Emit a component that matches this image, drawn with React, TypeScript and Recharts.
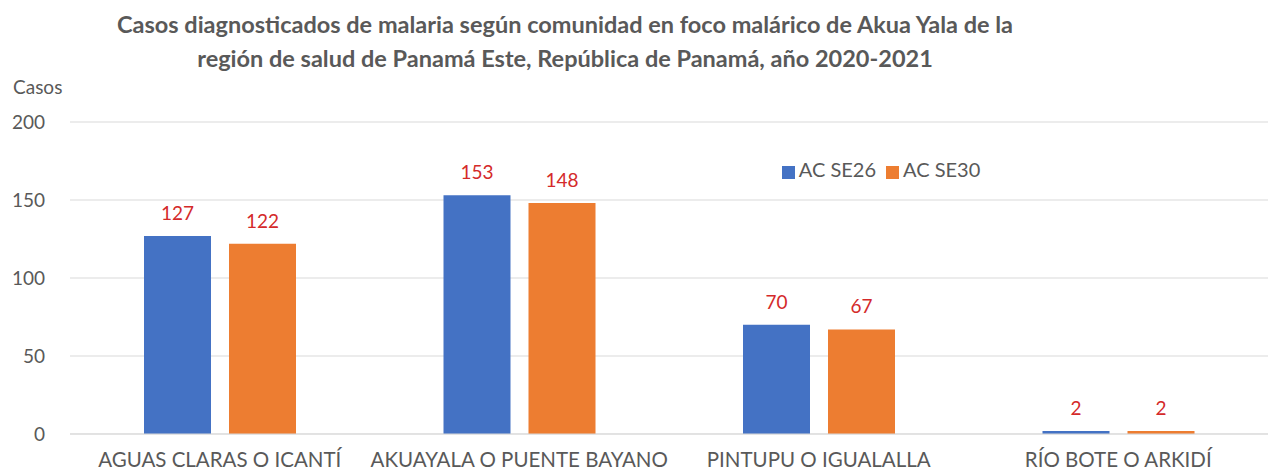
import React from "react";
import { BarChart, Bar, XAxis, YAxis, CartesianGrid, Legend, LabelList } from "recharts";

const categories = [
  "AGUAS CLARAS O ICANTÍ",
  "AKUAYALA O PUENTE BAYANO",
  "PINTUPU O IGUALALLA",
  "RÍO BOTE O ARKIDÍ",
];
const seSE26 = [127, 153, 70, 2];
const seSE30 = [122, 148, 67, 2];
const yTicks = [0, 50, 100, 150, 200];
const seriesNames = ["AC SE26", "AC SE30"];
const titleLines = [
  "Casos diagnosticados de malaria según comunidad en foco malárico de Akua Yala de la",
  "región de salud de Panamá Este, República de Panamá, año 2020-2021",
];
const yAxisTitle = "Casos";

const data = categories.map((c, i) => ({ name: c, s26: seSE26[i], s30: seSE30[i] }));

const FONT = "Lato, 'Open Sans', sans-serif";
const GREY = "#595959";
const RED = "#D42A2A";

export default function App() {
  return (
    <div style={{ position: "absolute", left: 0, top: 0, width: 1269, height: 472, overflow: "hidden", background: "#fff", fontFamily: FONT }}>
      <div style={{ position: "absolute", left: 0, top: 7, width: 1130, textAlign: "center", color: GREY, fontWeight: 700, fontSize: 23.5, lineHeight: "34px" }}>
        <div>{titleLines[0]}</div>
        <div>{titleLines[1]}</div>
      </div>
      <div style={{ position: "absolute", left: 13, top: 75, color: GREY, fontSize: 19, lineHeight: "24px" }}>{yAxisTitle}</div>
      <BarChart
        width={1269}
        height={472}
        data={data}
        margin={{ top: 122, right: 1, bottom: 0, left: 0 }}
        barGap={18}
        barSize={67}
      >
        <CartesianGrid vertical={false} stroke="#d9d9d9" />
        <XAxis
          dataKey="name"
          height={38}
          axisLine={{ stroke: "#d9d9d9" }}
          tickLine={false}
          tickSize={0}
          tickMargin={18}
          interval={0}
          tick={{ fill: GREY, fontSize: 20.5, fontFamily: FONT }}
        />
        <YAxis
          width={70}
          domain={[0, 200]}
          ticks={yTicks}
          axisLine={false}
          tickLine={false}
          tickSize={0}
          tickMargin={25}
          tick={{ fill: GREY, fontSize: 19, fontFamily: FONT }}
        />
        <Legend
          verticalAlign="middle"
          align="center"
          iconType="square"
          iconSize={13}
          wrapperStyle={{ position: "absolute", left: 746, top: 157, width: 280 }}
          formatter={(v: string) => <span style={{ color: GREY, fontSize: 20, fontFamily: FONT }}>{v}</span>}
        />
        <Bar dataKey="s26" name={seriesNames[0]} fill="#4472C4" isAnimationActive={false}>
          <LabelList dataKey="s26" position="top" offset={16} fill={RED} fontSize={19} fontFamily={FONT} />
        </Bar>
        <Bar dataKey="s30" name={seriesNames[1]} fill="#ED7D31" isAnimationActive={false}>
          <LabelList dataKey="s30" position="top" offset={16} fill={RED} fontSize={19} fontFamily={FONT} />
        </Bar>
      </BarChart>
    </div>
  );
}
